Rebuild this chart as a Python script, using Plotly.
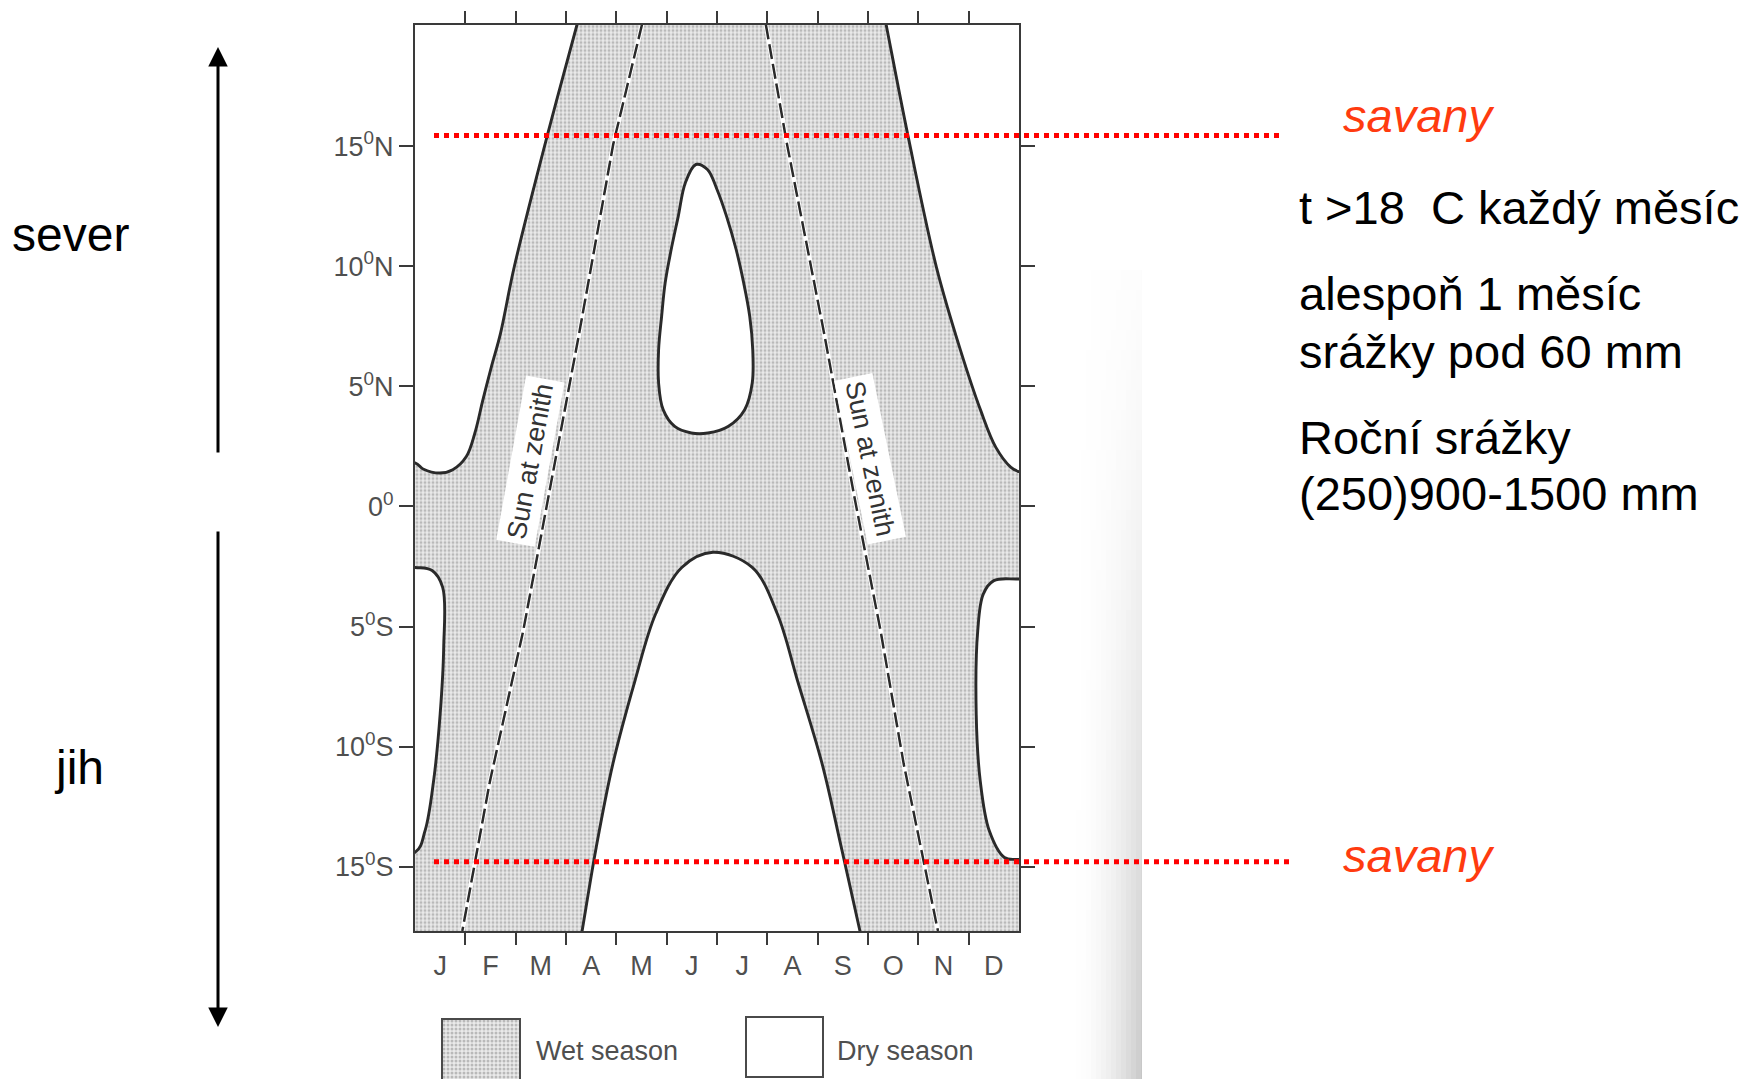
import plotly.graph_objects as go

FIG_W, FIG_H = 1758, 1079

# ---------------- data ----------------
# month position: 0 = 1 January ... 12 = 31 December ; latitude: degrees, north positive
months = ["J", "F", "M", "A", "M", "J", "J", "A", "S", "O", "N", "D"]
month_centres = [0.5, 1.5, 2.5, 3.5, 4.5, 5.5, 6.5, 7.5, 8.5, 9.5, 10.5, 11.5]
month_bounds = [1, 2, 3, 4, 5, 6, 7, 8, 9, 10, 11]
lat_ticks = [15, 10, 5, 0, -5, -10, -15]
lat_tick_labels = ["15<sup>0</sup>N", "10<sup>0</sup>N", "5<sup>0</sup>N", "0<sup>0</sup>",
                   "5<sup>0</sup>S", "10<sup>0</sup>S", "15<sup>0</sup>S"]
month_range = [0, 12]
lat_range = [-17.68, 20.07]

# dry-season area boundaries
nw_dry_month = [0.0, 0.16, 0.49, 0.75, 1.02, 1.19, 1.35, 1.52, 1.70, 1.97, 2.62, 3.22]
nw_dry_lat = [1.81, 1.56, 1.39, 1.53, 2.08, 3.06, 4.45, 5.83, 7.22, 9.96, 15.38, 20.07]

ne_dry_month = [9.36, 9.80, 10.36, 10.84, 11.24, 11.54, 11.84, 12.0]
ne_dry_lat = [20.07, 15.38, 9.96, 6.49, 3.99, 2.46, 1.63, 1.45]

june_dry_month = [5.58, 5.37, 5.23, 5.09, 4.97, 4.90, 4.84, 4.84, 4.93, 5.16, 5.49, 5.82,
                  6.22, 6.55, 6.70, 6.71, 6.65, 6.53, 6.38, 6.19, 6.00, 5.81]
june_dry_lat = [14.24, 13.47, 12.08, 10.70, 9.31, 7.92, 6.53, 5.14, 4.03, 3.33, 3.06, 3.06,
                3.33, 4.03, 5.14, 6.53, 7.92, 9.31, 10.70, 12.08, 13.20, 14.03]

south_dry_month = [3.32, 3.60, 3.93, 4.37, 4.78, 5.30, 5.92, 6.70, 7.20, 7.60, 8.09, 8.47, 8.84]
south_dry_lat = [-17.68, -14.20, -10.73, -7.26, -4.48, -2.54, -1.91, -2.54, -4.48, -7.26, -10.73, -14.20, -17.68]

jan_dry_month = [0.0, 0.34, 0.55, 0.57, 0.50, 0.37, 0.20, 0.0]
jan_dry_lat = [-2.54, -2.67, -3.37, -5.87, -8.64, -11.42, -13.50, -14.40]

dec_dry_month = [12.0, 11.50, 11.29, 11.18, 11.15, 11.23, 11.41, 11.71, 12.0]
dec_dry_lat = [-3.02, -3.09, -3.65, -5.18, -8.65, -11.43, -13.51, -14.62, -14.70]

# overhead sun (dashed lines)
sun_spring_month = [4.51, 3.94, 3.26, 2.59, 2.15, 1.49, 0.94]
sun_spring_lat = [20.07, 15.10, 7.19, -0.31, -5.18, -11.43, -17.68]
sun_autumn_month = [6.97, 7.39, 8.13, 8.73, 9.25, 9.71, 10.39]
sun_autumn_lat = [20.07, 15.10, 7.19, 0.39, -5.18, -10.73, -17.68]

savanna_lat = [15.45, -14.80]

right_notes = ["t >18\u00a0 C každý měsíc", "alespoň 1 měsíc", "srážky pod 60 mm",
               "Roční srážky", "(250)900-1500 mm"]

# ---------------- layout helpers (pixel -> paper) ----------------
def fx(px):
    return px / FIG_W

def fy(py):
    return 1 - py / FIG_H

PLOT_L, PLOT_R, PLOT_T, PLOT_B = 415, 1019, 24.5, 931
X0, X1 = month_range
Y0, Y1 = lat_range
PAD = 1.5

def extend(p_prev, p_last, y_to=None, x_to=None):
    (xa, ya), (xb, yb) = p_prev, p_last
    if y_to is not None:
        t = (y_to - yb) / (yb - ya)
    else:
        t = (x_to - xb) / (xb - xa)
    return xb + (xb - xa) * t, yb + (yb - ya) * t

CURVE = "#2a2a2a"
FRAME = "#3a3a3a"
SCAN_TXT = "#4f4f4f"
WET_PATTERN = dict(shape=".", size=4, solidity=0.45, fgcolor="#878787", bgcolor="#eaeaea")
FONT = "Liberation Sans, Arial, sans-serif"

fig = go.Figure()

# wet season everywhere in the chart area
fig.add_trace(go.Scatter(
    x=[X0, X1, X1, X0, X0], y=[Y0, Y0, Y1, Y1, Y0], mode="none",
    fill="toself", fillcolor="#eaeaea", fillpattern=WET_PATTERN,
    hoverinfo="skip", showlegend=False))

def dry(xs, ys):
    fig.add_trace(go.Scatter(
        x=xs, y=ys, mode="lines", fill="toself", fillcolor="white",
        line=dict(color=CURVE, width=2.9, shape="spline", smoothing=1.0),
        hoverinfo="skip", showlegend=False))

# north-west dry area
ex, ey = extend((nw_dry_month[-2], nw_dry_lat[-2]), (nw_dry_month[-1], nw_dry_lat[-1]), y_to=Y1 + PAD)
dry([X0 - PAD] + nw_dry_month + [ex, X0 - PAD],
    [nw_dry_lat[0]] + nw_dry_lat + [Y1 + PAD, Y1 + PAD])

# north-east dry area
sx, sy = extend((ne_dry_month[1], ne_dry_lat[1]), (ne_dry_month[0], ne_dry_lat[0]), y_to=Y1 + PAD)
dry([X1 + PAD, sx] + ne_dry_month + [X1 + PAD],
    [Y1 + PAD, Y1 + PAD] + ne_dry_lat + [ne_dry_lat[-1]])

# June dry "tear drop"
dry(june_dry_month + [june_dry_month[0]], june_dry_lat + [june_dry_lat[0]])

# southern dry arch
lx, ly = extend((south_dry_month[1], south_dry_lat[1]), (south_dry_month[0], south_dry_lat[0]), y_to=Y0 - PAD)
rx, ry = extend((south_dry_month[-2], south_dry_lat[-2]), (south_dry_month[-1], south_dry_lat[-1]), y_to=Y0 - PAD)
dry([lx] + south_dry_month + [rx], [Y0 - PAD] + south_dry_lat + [Y0 - PAD])

# January and December dry lenses (south)
dry([X0 - PAD] + jan_dry_month + [X0 - PAD], [jan_dry_lat[0]] + jan_dry_lat + [jan_dry_lat[-1]])
dry([X1 + PAD] + dec_dry_month + [X1 + PAD], [dec_dry_lat[0]] + dec_dry_lat + [dec_dry_lat[-1]])

# sun-at-zenith dashed lines
for mx, ly_ in ((sun_spring_month, sun_spring_lat), (sun_autumn_month, sun_autumn_lat)):
    fig.add_trace(go.Scatter(x=mx, y=ly_, mode="lines", line=dict(color="white", width=4.5),
                             hoverinfo="skip", showlegend=False))
    fig.add_trace(go.Scatter(x=mx, y=ly_, mode="lines",
                             line=dict(color=CURVE, width=2.5, dash="15px,5px"),
                             hoverinfo="skip", showlegend=False))

# helper trace for the month-boundary tick axis
fig.add_trace(go.Scatter(x=month_range, y=[Y0, Y0], xaxis="x2", yaxis="y", mode="lines",
                         line=dict(width=0, color="rgba(0,0,0,0)"), hoverinfo="skip", showlegend=False))

# legend swatch (wet season) in its own little subplot
fig.add_trace(go.Scatter(x=[0, 1, 1, 0, 0], y=[0, 0, 1, 1, 0], xaxis="x3", yaxis="y3", mode="none",
                         fill="toself", fillcolor="#eaeaea", fillpattern=WET_PATTERN,
                         hoverinfo="skip", showlegend=False))

axis_font = dict(family=FONT, color=SCAN_TXT)

fig.update_layout(
    width=FIG_W, height=FIG_H,
    margin=dict(l=0, r=0, t=0, b=0),
    paper_bgcolor="white", plot_bgcolor="white",
    font=dict(family=FONT, color="black"),
    hovermode=False,
    xaxis=dict(domain=[fx(PLOT_L), fx(PLOT_R)], range=month_range, tickmode="array",
               tickvals=month_centres, ticktext=months, ticks="", showgrid=False, zeroline=False,
               showline=True, mirror=True, linecolor=FRAME, linewidth=2,
               tickfont=dict(size=27, **axis_font), ticklabelstandoff=10, fixedrange=True),
    xaxis2=dict(overlaying="x", anchor="y", side="bottom", range=month_range, tickmode="array",
                tickvals=month_bounds, showticklabels=False, ticks="outside", ticklen=12,
                tickwidth=2, tickcolor=FRAME, showline=True, mirror="ticks", linecolor=FRAME,
                linewidth=2, showgrid=False, zeroline=False, fixedrange=True),
    yaxis=dict(domain=[fy(PLOT_B), fy(PLOT_T)], range=lat_range, tickmode="array",
               tickvals=lat_ticks, ticktext=lat_tick_labels, ticks="outside", ticklen=14,
               tickwidth=2, tickcolor=FRAME, showline=True, mirror="ticks", linecolor=FRAME,
               linewidth=2, showgrid=False, zeroline=False,
               tickfont=dict(size=27, **axis_font), fixedrange=True),
    xaxis3=dict(domain=[fx(442), fx(520)], range=[0, 1], visible=False, fixedrange=True, anchor="y3"),
    yaxis3=dict(domain=[0, fy(1019)], range=[0, 1], visible=False, fixedrange=True, anchor="x3"),
)

shapes = []
# scan shadow at the page edge (soft gradient, darker towards the bottom and the page edge)
shadow_x = list(range(1076, 1142, 5)) + [1142]
n_sx = len(shadow_x) - 1
shadow_y = list(range(270, 1079, 20)) + [1079]
for j in range(len(shadow_y) - 1):
    ramp = (shadow_y[j] - 270) / (1079 - 270)
    ramp = 0.05 + 0.95 * ramp ** 1.4
    for i in range(n_sx):
        strength = 0.40 * ((i + 1) / n_sx) ** 1.8
        shapes.append(dict(type="rect", xref="paper", yref="paper",
                           x0=fx(shadow_x[i]), x1=fx(shadow_x[i + 1]),
                           y0=fy(shadow_y[j + 1]), y1=fy(shadow_y[j]),
                           fillcolor="#6e6e6e", opacity=strength * ramp,
                           line=dict(width=0), layer="below"))
# savanna limits (red dotted)
for lat, xend in zip(savanna_lat, [1280, 1290]):
    shapes.append(dict(type="line", xref="paper", yref="y", x0=fx(434), x1=fx(xend), y0=lat, y1=lat,
                       line=dict(color="#ff0000", width=5, dash="5px,5px"), layer="above"))
# legend boxes
shapes.append(dict(type="rect", xref="paper", yref="paper", x0=fx(442), x1=fx(520), y0=fy(1086), y1=fy(1019),
                   line=dict(color="#4a4a4a", width=2), layer="above"))
shapes.append(dict(type="rect", xref="paper", yref="paper", x0=fx(746), x1=fx(823), y0=fy(1077), y1=fy(1017),
                   line=dict(color="#4a4a4a", width=2), fillcolor="white", layer="above"))
fig.update_layout(shapes=shapes)

ann = []
big = dict(family=FONT, size=47, color="black")
for txt, yc in zip(right_notes, [207, 294, 351, 437, 494]):
    ann.append(dict(text=txt, xref="paper", yref="paper", x=fx(1297), y=fy(yc), xanchor="left",
                    yanchor="middle", showarrow=False, font=big))
for yc in [116, 855]:
    ann.append(dict(text="<i>savany</i>", xref="paper", yref="paper", x=fx(1341), y=fy(yc), xanchor="left",
                    yanchor="middle", showarrow=False, font=dict(family=FONT, size=47, color="#ff3b0f")))
side = dict(family=FONT, size=48, color="black")
ann.append(dict(text="sever", xref="paper", yref="paper", x=fx(70), y=fy(235), xanchor="center",
                yanchor="middle", showarrow=False, font=side))
ann.append(dict(text="jih", xref="paper", yref="paper", x=fx(79), y=fy(767), xanchor="center",
                yanchor="middle", showarrow=False, font=side))
# north / south arrows
ann.append(dict(text="", xref="paper", yref="paper", x=fx(218), y=fy(47), ax=0, ay=407,
                showarrow=True, arrowhead=2, arrowsize=1.3, arrowwidth=3, arrowcolor="black", standoff=0))
ann.append(dict(text="", xref="paper", yref="paper", x=fx(218), y=fy(1027), ax=0, ay=-497,
                showarrow=True, arrowhead=2, arrowsize=1.3, arrowwidth=3, arrowcolor="black", standoff=0))
# sun at zenith labels
zen_font = dict(family=FONT, size=27, color="#333333")
ann.append(dict(text="Sun at zenith", x=2.29, y=1.9, xref="x", yref="y", textangle=-79.7,
                showarrow=False, bgcolor="white", borderpad=4, font=zen_font))
ann.append(dict(text="Sun at zenith", x=9.03, y=2.0, xref="x", yref="y", textangle=78.4,
                showarrow=False, bgcolor="white", borderpad=4, font=zen_font))
# legend labels
leg_font = dict(family=FONT, size=27, color=SCAN_TXT)
ann.append(dict(text="Wet season", xref="paper", yref="paper", x=fx(534), y=fy(1051), xanchor="left",
                yanchor="middle", showarrow=False, font=leg_font))
ann.append(dict(text="Dry season", xref="paper", yref="paper", x=fx(835), y=fy(1051), xanchor="left",
                yanchor="middle", showarrow=False, font=leg_font))
fig.update_layout(annotations=ann)

fig.write_html("out.html", config={"displayModeBar": False},
               post_script="document.body.style.margin='0';document.body.style.overflow='hidden';")
